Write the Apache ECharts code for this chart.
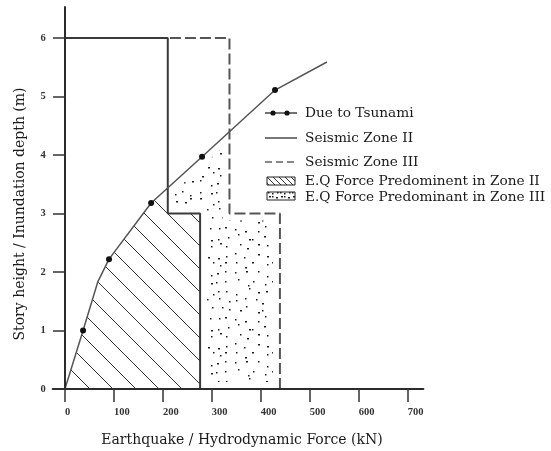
<!DOCTYPE html>
<html>
<head>
<meta charset="utf-8">
<script src="https://cdn.jsdelivr.net/npm/echarts@6/dist/echarts.min.js"></script>
<style>
  html, body { margin: 0; padding: 0; background: #fff; }
  #chart { width: 551px; height: 451px; }
</style>
</head>
<body>
<div id="chart"></div>
<script>
// Axis ticks
const forceTicks = [0, 100, 200, 300, 400, 500, 600, 700];
const storyTicks = [0, 1, 2, 3, 4, 5, 6];

// Tsunami (hydrodynamic) force profile: force (kN) vs height (m)
const tsunamiForce  = [0, 37, 67, 90, 176, 280, 429, 535];
const tsunamiHeight = [0, 1.0, 1.83, 2.22, 3.18, 3.97, 5.11, 5.59];
const tsunamiMarked = [false, true, false, true, true, true, true, false];

// Seismic storey forces (kN): upper storeys / lower storeys
const zoneIIForce  = [210, 276];
const zoneIIIForce = [336, 439];
const stepHeight = 3;
const topHeight = 6;

// ---- derived geometry (data units) ----
const tsunamiPts = tsunamiForce.map((f, i) => [f, tsunamiHeight[i]]);

function curveHeightAt(f) {
  for (let i = 1; i < tsunamiPts.length; i++) {
    const [f0, h0] = tsunamiPts[i - 1], [f1, h1] = tsunamiPts[i];
    if (f >= f0 && f <= f1) return h0 + (f - f0) / (f1 - f0) * (h1 - h0);
  }
  return tsunamiPts[tsunamiPts.length - 1][1];
}

function stepPath(force) {
  return [[0, topHeight], [force[0], topHeight], [force[0], stepHeight],
          [force[1], stepHeight], [force[1], 0]];
}

const hZ2 = curveHeightAt(zoneIIForce[0]);
const hZ3 = curveHeightAt(zoneIIIForce[0]);

// region where zone II seismic force exceeds the tsunami force
const hatchPoly = tsunamiPts.filter(p => p[0] < zoneIIForce[0])
  .concat([[zoneIIForce[0], hZ2], [zoneIIForce[0], stepHeight],
           [zoneIIForce[1], stepHeight], [zoneIIForce[1], 0]]);

// additional region where zone III seismic force exceeds the tsunami force
const dotPoly = [[zoneIIForce[1], 0], [zoneIIForce[1], stepHeight],
                 [zoneIIForce[0], stepHeight], [zoneIIForce[0], hZ2]]
  .concat(tsunamiPts.filter(p => p[0] > zoneIIForce[0] && p[0] < zoneIIIForce[0]))
  .concat([[zoneIIIForce[0], hZ3], [zoneIIIForce[0], stepHeight],
           [zoneIIIForce[1], stepHeight], [zoneIIIForce[1], 0]]);

// ---- fill textures ----
function hatchTile(size, color) {
  const c = document.createElement('canvas');
  c.width = size; c.height = size;
  const g = c.getContext('2d');
  g.strokeStyle = color; g.lineWidth = 1;
  for (const k of [-size, 0, size]) {
    g.beginPath(); g.moveTo(k, 0); g.lineTo(k + size, size); g.stroke();
  }
  return c;
}

// stipple texture: one dot per cell, jittered inside the cell
function stippleTile(cells, cell, seed) {
  const size = cells * cell;
  const c = document.createElement('canvas');
  c.width = size; c.height = size;
  const g = c.getContext('2d');
  g.fillStyle = '#1e1e1e';
  let s = seed;
  const next = () => { s = (s * 1103515245 + 12345) % 2147483648; return s / 2147483648; };
  for (let i = 0; i < cells; i++) {
    for (let j = 0; j < cells; j++) {
      const x = i * cell + Math.floor(next() * (cell - 2));
      const y = j * cell + Math.floor(next() * (cell - 2));
      const w = next() < 0.35 ? 2 : 1.5;
      g.fillRect(x, y, w, 1.5);
    }
  }
  return c;
}

const hatchFill = { image: hatchTile(23, '#333'), repeat: 'repeat' };
const dotFill = { image: stippleTile(10, 9, 11), repeat: 'repeat' };
const hatchFillSmall = { image: hatchTile(6, '#333'), repeat: 'repeat' };
const dotFillSmall = { image: stippleTile(3, 4, 5), repeat: 'repeat' };

function polygonSeries(poly, style, z) {
  return {
    type: 'custom',
    data: poly,
    encode: { x: 0, y: 1 },
    silent: true,
    z: z,
    renderItem: function (params, api) {
      if (params.dataIndex !== 0) return;
      const points = poly.map(p => api.coord(p));
      return { type: 'polygon', shape: { points: points }, style: style };
    }
  };
}

const serif = 'DejaVu Serif';
const textColor = '#1a1a1a';

// legend rows
const lx = 265, tx = 305;
const rows = [113, 138, 162, 181, 197];
const labels = ['Due to Tsunami', 'Seismic Zone II', 'Seismic Zone III',
                'E.Q Force Predominent in Zone II', 'E.Q Force Predominant in Zone III'];

const legendGraphics = [
  { type: 'line', shape: { x1: lx, y1: rows[0], x2: lx + 32, y2: rows[0] }, style: { stroke: '#444', lineWidth: 1.5 } },
  { type: 'circle', shape: { cx: lx + 8, cy: rows[0], r: 2.6 }, style: { fill: '#111' } },
  { type: 'circle', shape: { cx: lx + 22, cy: rows[0], r: 2.6 }, style: { fill: '#111' } },
  { type: 'line', shape: { x1: lx, y1: rows[1], x2: lx + 32, y2: rows[1] }, style: { stroke: '#777', lineWidth: 2 } },
  { type: 'line', shape: { x1: lx, y1: rows[2], x2: lx + 32, y2: rows[2] }, style: { stroke: '#888', lineWidth: 2, lineDash: [7, 4] } },
  { type: 'rect', shape: { x: lx + 2, y: rows[3] - 4, width: 28, height: 8 }, style: { fill: hatchFillSmall, stroke: '#222', lineWidth: 1 } },
  { type: 'rect', shape: { x: lx + 2, y: rows[4] - 5, width: 28, height: 8 }, style: { fill: dotFillSmall, stroke: '#222', lineWidth: 1 } }
].concat(labels.map((t, i) => ({
  type: 'text', x: tx, y: rows[i],
  style: { text: t, font: '13.7px "' + serif + '"', fill: textColor, verticalAlign: 'middle', align: 'left' }
})));

const chart = echarts.init(document.getElementById('chart'), null, { renderer: 'canvas' });

chart.setOption({
  animation: false,
  backgroundColor: '#fff',
  grid: { left: 52.7, right: 127.6, top: 7, bottom: 62, containLabel: false },
  xAxis: {
    type: 'value', min: -25, max: 732, z: 10,
    splitLine: { show: false },
    axisLine: { show: true, onZero: true, lineStyle: { color: '#2b2b2b', width: 2 } },
    axisTick: { show: true, customValues: forceTicks, length: 13, inside: false, lineStyle: { color: '#333', width: 1.5 } },
    axisLabel: { customValues: forceTicks, margin: 18, align: 'left', color: '#333',
                 fontFamily: 'Liberation Serif', fontWeight: 'bold', fontSize: 10.5 }
  },
  yAxis: {
    type: 'value', min: 0, max: 6.53, z: 10,
    splitLine: { show: false },
    axisLine: { show: true, onZero: true, lineStyle: { color: '#2b2b2b', width: 2 } },
    axisTick: { show: true, customValues: storyTicks, length: 12, lineStyle: { color: '#333', width: 1.5 } },
    axisLabel: { customValues: storyTicks, margin: 7, color: '#333',
                 fontFamily: 'Liberation Serif', fontWeight: 'bold', fontSize: 10.5 }
  },
  series: [
    // stipple kept clear of the boundaries by a white border
    polygonSeries(dotPoly, { fill: dotFill, stroke: '#fff', lineWidth: 14, lineJoin: 'miter' }, 1),
    polygonSeries(hatchPoly, { fill: hatchFill, stroke: null }, 2),
    {
      name: 'Seismic Zone III', type: 'line', data: stepPath(zoneIIIForce),
      symbol: 'none', z: 3,
      lineStyle: { color: '#555', width: 2, type: [11, 4] }
    },
    {
      name: 'Seismic Zone II', type: 'line', data: stepPath(zoneIIForce),
      symbol: 'none', z: 4,
      lineStyle: { color: '#3a3a3a', width: 2 }
    },
    {
      name: 'Due to Tsunami', type: 'line', z: 5,
      data: tsunamiPts.map((p, i) => ({ value: p, symbol: tsunamiMarked[i] ? 'circle' : 'none' })),
      symbolSize: 6,
      itemStyle: { color: '#111' },
      lineStyle: { color: '#555', width: 1.5 }
    }
  ],
  graphic: [
    { type: 'text', x: 242, y: 440,
      style: { text: 'Earthquake / Hydrodynamic Force (kN)', font: '14px "' + serif + '"', fill: textColor, align: 'center', verticalAlign: 'middle' } },
    { type: 'text', x: 20, y: 214, rotation: Math.PI / 2,
      style: { text: 'Story height / Inundation depth (m)', font: '14px "' + serif + '"', fill: textColor, align: 'center', verticalAlign: 'middle' } }
  ].concat(legendGraphics)
});
</script>
</body>
</html>
